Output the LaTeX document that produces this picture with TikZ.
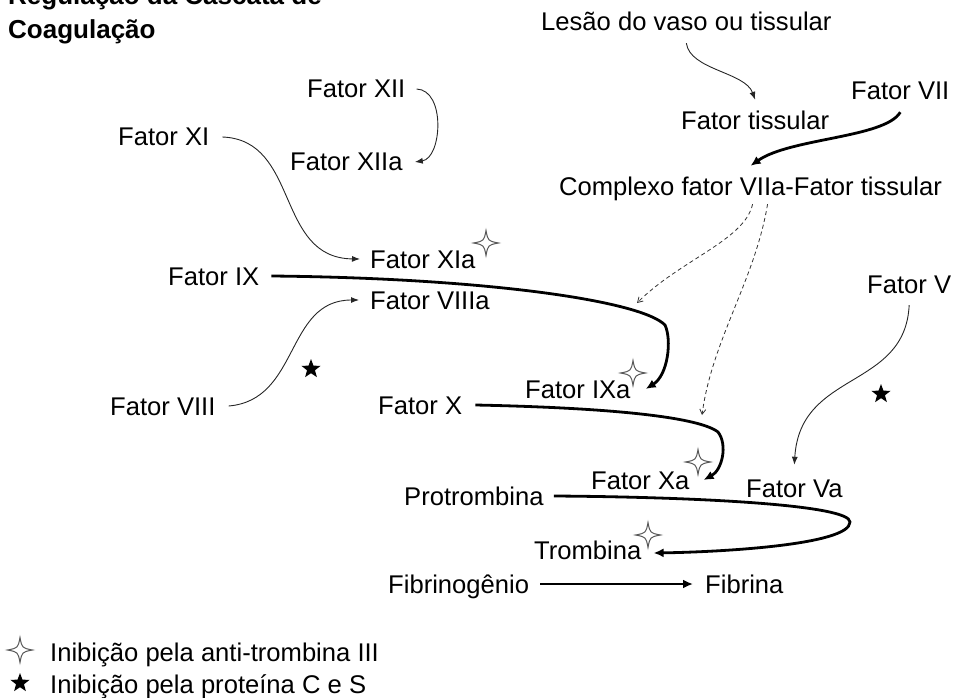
\documentclass[tikz,border=0pt]{standalone}
\usepackage{fontspec}
\setmainfont{Liberation Sans}
\usetikzlibrary{arrows.meta,shapes.geometric}
\tikzset{
  hollowstar/.pic={\draw[line width=1pt, draw=black!65, fill=white]
    (0,-12.5) .. controls (2,-2) .. (12.5,0) .. controls (2,2) .. (0,12.5)
    .. controls (-2,2) .. (-12.5,0) .. controls (-2,-2) .. (0,-12.5) -- cycle;},
  blackstar/.style={star, star points=5, star point ratio=2.4, fill=black, draw=none, inner sep=0pt, minimum size=20pt},
  lbl/.style={inner sep=0pt, anchor=base west, text height=18pt, text depth=0pt, font=\fontsize{25.6}{30}\selectfont},
  ttl/.style={inner sep=0pt, anchor=base west, font=\fontsize{26}{30}\selectfont\bfseries},
  thinarr/.style={draw=black!85, line width=0.9pt, -{Latex[length=8pt,width=6pt]}},
  thickarr/.style={draw=black, line width=2.8pt, -{Latex[length=10pt,width=9pt]}},
  dasharr/.style={draw=black!80, line width=0.8pt, dash pattern=on 4pt off 3pt, -{Straight Barb[length=5pt,width=6pt]}}
}
\begin{document}
\begin{tikzpicture}[x=1pt,y=-1pt]
\useasboundingbox (0,0) rectangle (956,698);
% title
\node[ttl] (t1) at (8,5) {Regulação da Cascata de};
\node[ttl] (t2) at (8,39) {Coagulação};
% labels
\node[lbl] (lesao) at (541,31) {Lesão do vaso ou tissular};
\node[lbl] (vii) at (851,100) {Fator VII};
\node[lbl] (fts) at (681,130) {Fator tissular};
\node[lbl] (complexo) at (559,196) {Complexo fator VIIa-Fator tissular};
\node[lbl] (xii) at (307,98) {Fator XII};
\node[lbl] (xiia) at (290,171) {Fator XIIa};
\node[lbl] (xi) at (118,146) {Fator XI};
\node[lbl] (xia) at (370,268) {Fator XIa};
\node[lbl] (ix) at (168,285) {Fator IX};
\node[lbl] (viiia) at (370,309) {Fator VIIIa};
\node[lbl] (viii) at (110,415) {Fator VIII};
\node[lbl] (x) at (378,414) {Fator X};
\node[lbl] (ixa) at (525,398) {Fator IXa};
\node[lbl] (xa) at (591,489) {Fator Xa};
\node[lbl] (v) at (867,293) {Fator V};
\node[lbl] (va) at (746,497) {Fator Va};
\node[lbl] (protro) at (404,505) {Protrombina};
\node[lbl] (tromb) at (534,559) {Trombina};
\node[lbl] (fibrinog) at (388,593) {Fibrinogênio};
\node[lbl] (fibrina) at (705,593) {Fibrina};
% stars
\pic at (486,243) {hollowstar};
\pic at (633,373) {hollowstar};
\pic at (698,462) {hollowstar};
\pic at (648,535) {hollowstar};
\node[blackstar] (bs1) at (311,369) {};
\node[blackstar] (bs2) at (881,394) {};
% legend
\pic at (20,650) {hollowstar};
\node[blackstar] (bsl) at (20,683) {};
\node[lbl] (leg1) at (50,661) {Inibição pela anti-trombina III};
\node[lbl] (leg2) at (50,693) {Inibição pela proteína C e S};
% free ends on lines
\coordinate (ixline) at (637,303);
\coordinate (xline) at (702,415);
% connectors
\draw[thinarr] ([xshift=11pt]xii.east) .. controls (446,90) and (442,158) .. ([xshift=12pt]xiia.east);
\draw[thinarr] ([xshift=13pt]xi.east) .. controls (300,140) and (275,258) .. ([xshift=-10pt]xia.west);
\draw[thinarr] ([xshift=13pt]viii.east) .. controls (300,400) and (285,300) .. ([xshift=-11pt]viiia.west);
\draw[thickarr] ([xshift=12pt]ix.east) .. controls (480,278) and (640,300) .. (665,325)
   .. controls (672,340) and (668,375) .. ([xshift=15pt]ixa.east);
\draw[thickarr] ([xshift=13pt]x.east) .. controls (620,408) and (700,418) .. (718,432)
   .. controls (728,445) and (722,470) .. ([xshift=14pt]xa.east);
\draw[thickarr] ([xshift=10pt]protro.east) .. controls (700,497) and (850,505) .. (850,522)
   .. controls (850,545) and (720,552) .. ([xshift=12pt,yshift=-3pt]tromb.east);
\draw[thickarr] ([xshift=11pt]fibrinog.east) -- ([xshift=-12pt]fibrina.west);
\draw[thinarr] ([yshift=-12pt]lesao.south) .. controls (690,70) and (745,72) .. ([yshift=12pt]fts.north);
\draw[thickarr] ([yshift=-12pt]vii.south) .. controls (885,138) and (790,138) .. ([yshift=12pt]complexo.north);
\draw[dasharr] ([xshift=2pt,yshift=-8pt]complexo.south) .. controls (745,240) and (680,260) .. (ixline);
\draw[dasharr] ([xshift=17pt,yshift=-8pt]complexo.south) .. controls (755,280) and (712,340) .. (xline);
\draw[thinarr] ([yshift=-12pt]v.south) .. controls (905,390) and (800,370) .. ([yshift=14pt]va.north);
\end{tikzpicture}
\end{document}
